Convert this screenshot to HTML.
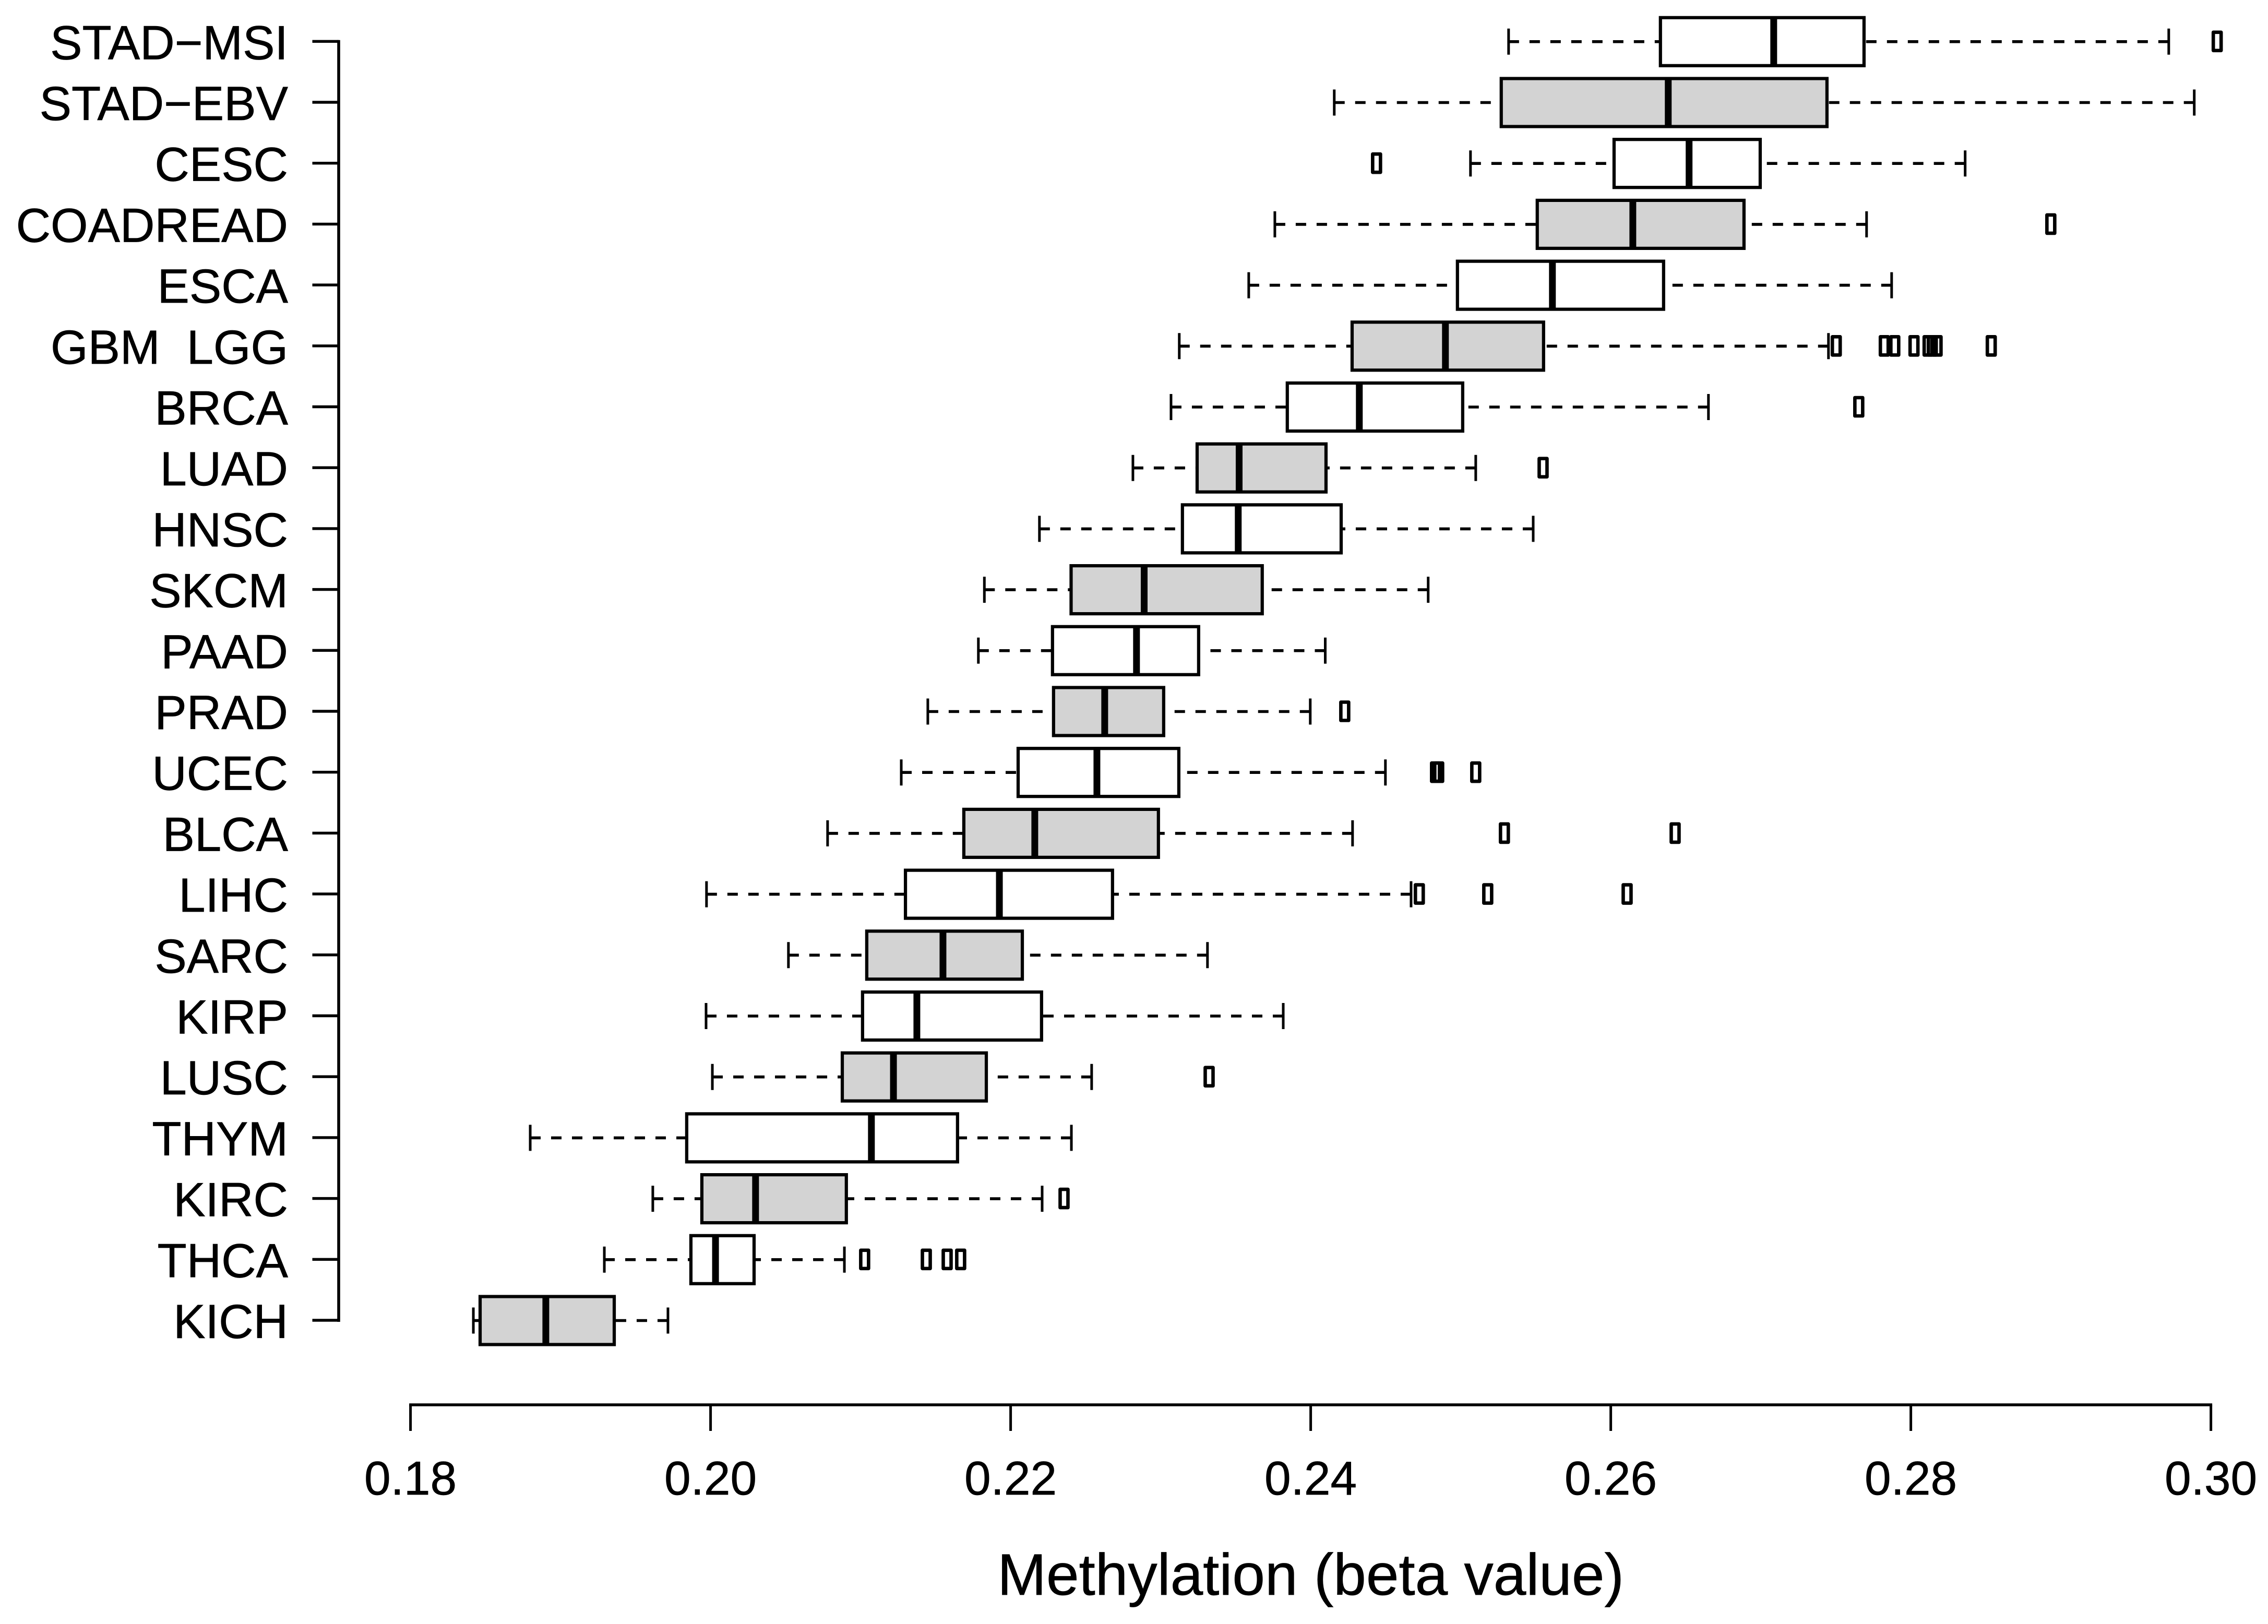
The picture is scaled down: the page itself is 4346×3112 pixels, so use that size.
<!DOCTYPE html>
<html lang="en">
<head>
<meta charset="utf-8">
<title>Methylation (beta value) boxplot</title>
<style>
html,body{margin:0;padding:0;background:#fff;}
svg{display:block;}
text{font-family:"Liberation Sans",Arial,sans-serif;fill:#000;stroke:#000;stroke-width:0.7px;white-space:pre;}
</style>
</head>
<body>
<svg id="chart" xmlns="http://www.w3.org/2000/svg" width="4346" height="3112" viewBox="0 0 4346 3112">
<rect x="0" y="0" width="4346" height="3112" fill="#ffffff"></rect>
<text x="2511.6" y="3056" font-size="112.5" text-anchor="middle">Methylation (beta value)</text>
</svg>
<script>
const categories = ["STAD−MSI","STAD−EBV","CESC","COADREAD","ESCA","GBM  LGG","BRCA","LUAD","HNSC","SKCM","PAAD","PRAD","UCEC","BLCA","LIHC","SARC","KIRP","LUSC","THYM","KIRC","THCA","KICH"];
const whiskerLow = [0.25319,0.24157,0.25065,0.23761,0.23587,0.23124,0.23069,0.22815,0.22192,0.21825,0.21785,0.21448,0.21271,0.20780,0.19973,0.20519,0.19970,0.20012,0.18798,0.19615,0.19292,0.18419];
const quartile1 = [0.26331,0.25270,0.26022,0.25510,0.24978,0.24276,0.23844,0.23243,0.23145,0.22403,0.22279,0.22286,0.22050,0.21688,0.21299,0.21041,0.21013,0.20878,0.19841,0.19942,0.19869,0.18464];
const medians = [0.27086,0.26383,0.26522,0.26147,0.25611,0.24898,0.24324,0.23523,0.23517,0.22890,0.22839,0.22627,0.22575,0.22161,0.21925,0.21549,0.21375,0.21219,0.21072,0.20300,0.20033,0.18902];
const quartile3 = [0.27688,0.27441,0.26996,0.26888,0.26352,0.25552,0.25013,0.24102,0.24203,0.23677,0.23253,0.23020,0.23121,0.22985,0.22679,0.22078,0.22206,0.21838,0.21646,0.20905,0.20290,0.19358];
const whiskerHigh = [0.29719,0.29889,0.28362,0.27705,0.27872,0.27451,0.26651,0.25100,0.25483,0.24783,0.24097,0.23997,0.24498,0.24279,0.24669,0.23312,0.23817,0.22540,0.22405,0.22210,0.20892,0.19716];
const outliers = [
  [0.30042],
  [],
  [0.24439],
  [0.28933],
  [],
  [0.27503,0.27823,0.27893,0.28021,0.28115,0.28143,0.28175,0.28536],
  [0.27653],
  [0.25549],
  [],
  [],
  [],
  [0.24227],
  [0.24832,0.24853,0.25100],
  [0.25291,0.26429],
  [0.24724,0.25180,0.26109],
  [],
  [],
  [0.23323],
  [],
  [0.22356],
  [0.21027,0.21438,0.21577,0.21667],
  []
];
const xTickLabels = ["0.18","0.20","0.22","0.24","0.26","0.28","0.30"];

const SVG_NS = "http://www.w3.org/2000/svg";
const chart = document.getElementById("chart");
function xScale(v){ return 786.6 + (v - 0.18) * 28750; }
function yScale(i){ return 79.8 + i * 116.7; }
function slug(s){ return s.replace(/[^A-Za-z0-9]+/g, "-").toLowerCase(); }
function make(tag, attrs, parent){
  const el = document.createElementNS(SVG_NS, tag);
  for (const k in attrs) el.setAttribute(k, attrs[k]);
  parent.appendChild(el);
  return el;
}

// Boxes
categories.forEach(function(cat, i){
  const y = yScale(i);
  const name = slug(cat);
  const g = make("g", {}, chart);
  
  

  const wl = make("line", {x1:xScale(whiskerLow[i]), x2:xScale(quartile1[i]), y1:y, y2:y, stroke:"#000", "stroke-width":5.6, "stroke-dasharray":"20 20"}, g);
  
  

  const wh = make("line", {x1:xScale(whiskerHigh[i]), x2:xScale(quartile3[i]), y1:y, y2:y, stroke:"#000", "stroke-width":5.6, "stroke-dasharray":"20 20"}, g);
  
  

  const cl = make("line", {x1:xScale(whiskerLow[i]), x2:xScale(whiskerLow[i]), y1:y-25, y2:y+25, stroke:"#000", "stroke-width":5}, g);
  
  

  const ch = make("line", {x1:xScale(whiskerHigh[i]), x2:xScale(whiskerHigh[i]), y1:y-25, y2:y+25, stroke:"#000", "stroke-width":5}, g);
  
  

  const box = make("rect", {x:xScale(quartile1[i]), y:y-46, width:xScale(quartile3[i])-xScale(quartile1[i]), height:92, fill:(i % 2 === 1 ? "#d3d3d3" : "#ffffff"), stroke:"#000", "stroke-width":6.2}, g);
  
  

  const med = make("line", {x1:xScale(medians[i]), x2:xScale(medians[i]), y1:y-46, y2:y+46, stroke:"#000", "stroke-width":13}, g);
  
  

  outliers[i].forEach(function(v){
    const o = make("rect", {x:xScale(v)-7.5, y:y-18, width:15, height:35, fill:"none", stroke:"#000", "stroke-width":6.6, "stroke-linejoin":"round"}, g);
    
    
  });
});

// Y axis
const yAxisX = 649;
const yAxis = make("line", {x1:yAxisX, x2:yAxisX, y1:yScale(0)-3, y2:yScale(categories.length-1)+2.5, stroke:"#000", "stroke-width":5.6}, chart);


categories.forEach(function(cat, i){
  const y = yScale(i) - 0.5;
  const t = make("line", {x1:598.5, x2:yAxisX, y1:y, y2:y, stroke:"#000", "stroke-width":5.4}, chart);
  
  
  const lab = make("text", {x:552, y:y+34, "font-size":92, "text-anchor":"end"}, chart);
  
  
  lab.textContent = cat;
});

// X axis
const axisY = 2692;
const xAxis = make("line", {x1:xScale(parseFloat(xTickLabels[0]))-2.5, x2:xScale(parseFloat(xTickLabels[xTickLabels.length-1]))+2.5, y1:axisY, y2:axisY, stroke:"#000", "stroke-width":5.6}, chart);


xTickLabels.forEach(function(label){
  const x = xScale(parseFloat(label));
  const t = make("line", {x1:x, x2:x, y1:axisY, y2:2742, stroke:"#000", "stroke-width":5}, chart);
  
  
  const lab = make("text", {x:x, y:2864, "font-size":91, "text-anchor":"middle"}, chart);
  
  
  lab.textContent = label;
});
</script>
</body>
</html>
